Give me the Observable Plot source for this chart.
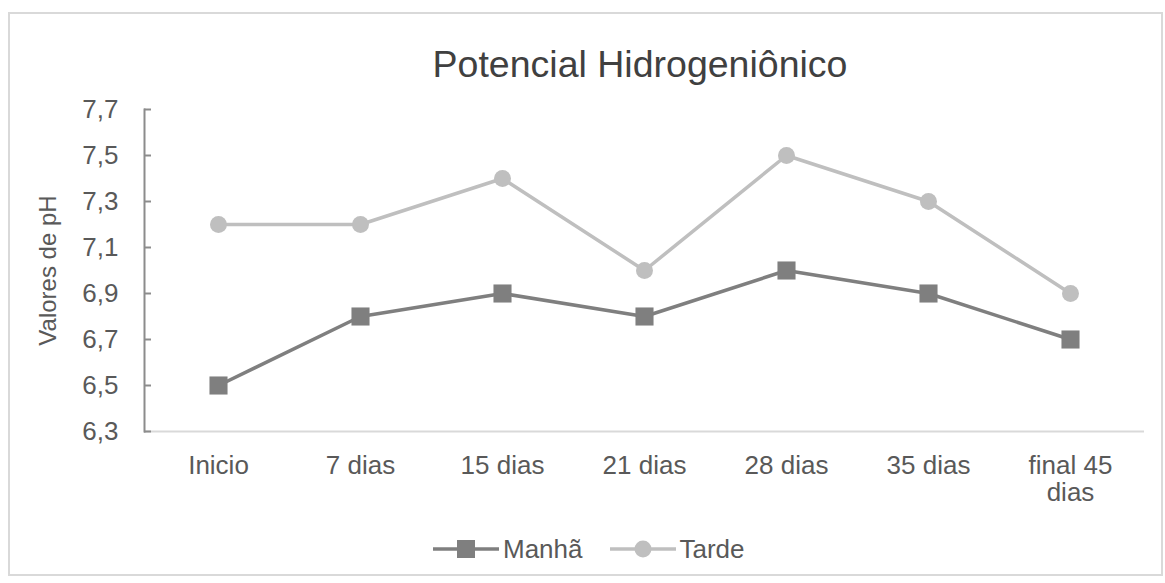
<!DOCTYPE html>
<html><head><meta charset="utf-8">
<script src="https://cdn.jsdelivr.net/npm/d3@7"></script>
<script src="https://cdn.jsdelivr.net/npm/@observablehq/plot@0.6"></script>
<style>
body{margin:0;background:#fff;font-family:"Liberation Sans",Arial,sans-serif;}
#frame{position:absolute;left:8px;top:12px;width:1155px;height:564px;border:2px solid #d9d9d9;box-sizing:border-box;}
#title{position:absolute;left:140px;width:1000px;top:46px;text-align:center;font-size:37.5px;color:#404040;line-height:1;}
#chart{position:absolute;left:10px;top:95px;}
#legend{position:absolute;top:536px;left:433px;display:flex;align-items:center;font-size:26px;color:#595959;line-height:1;}
.item{display:flex;align-items:center;margin-right:27px;}
.item svg{margin-right:4px;}
</style>
</head><body>
<div id="frame"></div>
<div id="title">Potencial Hidrogeniônico</div>
<div id="chart"></div>
<div id="legend"></div>
<script>
const categories = ["Inicio", "7 dias", "15 dias", "21 dias", "28 dias", "35 dias", "final 45 dias"];
const manha = [6.5, 6.8, 6.9, 6.8, 7.0, 6.9, 6.7];
const tarde = [7.2, 7.2, 7.4, 7.0, 7.5, 7.3, 6.9];
const yTicks = [6.3, 6.5, 6.7, 6.9, 7.1, 7.3, 7.5, 7.7];
const seriesNames = ["Manhã", "Tarde"];
const colors = {"Manhã": "#7f7f7f", "Tarde": "#bfbfbf"};

const rowsM = categories.map((c, i) => ({cat: c, serie: "Manhã", v: manha[i]}));
const rowsT = categories.map((c, i) => ({cat: c, serie: "Tarde", v: tarde[i]}));

const fmt = d => d.toFixed(1).replace(".", ",");

const chart = Plot.plot({
  width: 1151, height: 420,
  marginLeft: 134, marginRight: 17, marginTop: 14, marginBottom: 84,
  style: {fontFamily: "Liberation Sans, Arial, sans-serif", fontSize: "26px", color: "#595959", background: "transparent", overflow: "visible"},
  x: {type: "point", domain: categories, padding: 0.5},
  y: {domain: [6.3, 7.7]},
  marks: [
    Plot.ruleY([6.3], {stroke: "#d9d9d9", strokeWidth: 2}),
    Plot.frame({anchor: "left", stroke: "#8c8c8c", strokeWidth: 2}),
    Plot.axisX({tickSize: 0, tickPadding: 23, label: null, fill: "#595959", lineHeight: 1.05,
      tickFormat: d => d === "final 45 dias" ? "final 45\ndias" : d}),
    Plot.axisY({ticks: yTicks, tickSize: -7, tickPadding: 33, label: null, stroke: "#8c8c8c", strokeWidth: 2, strokeOpacity: 1, fill: "#595959", tickFormat: fmt}),
    Plot.text(["Valores de pH"], {frameAnchor: "left", textAnchor: "middle", rotate: -90, dx: -96, fontSize: 24, fill: "#595959"}),
    Plot.lineY(rowsM, {x: "cat", y: "v", stroke: colors["Manhã"], strokeWidth: 3.5}),
    Plot.lineY(rowsT, {x: "cat", y: "v", stroke: colors["Tarde"], strokeWidth: 3.5}),
    Plot.dot(rowsM, {x: "cat", y: "v", symbol: "square", r: 10.2, fill: colors["Manhã"], stroke: "none"}),
    Plot.dot(rowsT, {x: "cat", y: "v", symbol: "circle", r: 8.5, fill: colors["Tarde"], stroke: "none"})
  ]
});
document.getElementById("chart").appendChild(chart);

const legend = document.getElementById("legend");
seriesNames.forEach(name => {
  const c = colors[name];
  const marker = name === "Manhã"
    ? `<rect x="24" y="4" width="18" height="18" fill="${c}"/>`
    : `<circle cx="33" cy="13" r="8.5" fill="${c}"/>`;
  const item = document.createElement("div");
  item.className = "item";
  item.innerHTML = `<svg width="66" height="26"><line x1="0" x2="66" y1="13" y2="13" stroke="${c}" stroke-width="3.5"/>${marker}</svg><span>${name}</span>`;
  legend.appendChild(item);
});
</script>
</body></html>
